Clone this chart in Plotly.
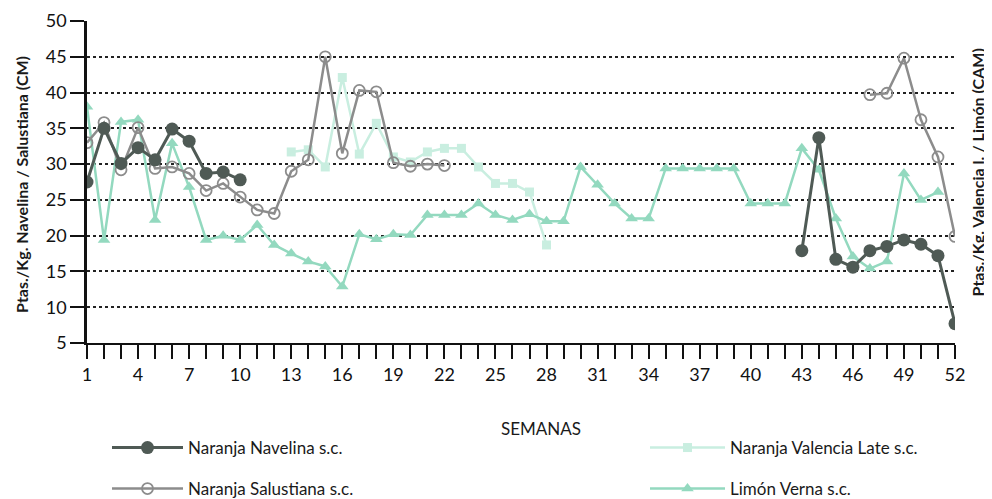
import plotly.graph_objects as go

weeks = list(range(1, 53))
N = None

navelina = [27.5, 35.0, 30.1, 32.3, 30.6, 34.9, 33.2, 28.7, 28.9, 27.8] + [N]*32 + \
           [17.9, 33.7, 16.7, 15.6, 17.9, 18.5, 19.4, 18.8, 17.2, 7.7]

salustiana = [33.0, 35.8, 29.2, 35.1, 29.4, 29.6, 28.7, 26.3, 27.3, 25.4, 23.6, 23.1,
              29.0, 30.6, 45.0, 31.5, 40.3, 40.1, 30.2, 29.7, 30.0, 29.8] + [N]*24 + \
             [39.7, 39.9, 44.8, 36.2, 31.0, 19.9]

valencia = [N]*12 + [31.7, 32.0, 29.6, 42.1, 31.4, 35.7, 31.0, 30.3, 31.7, 32.2, 32.2,
                     29.6, 27.3, 27.3, 26.1, 18.7] + [N]*24

limon = [38.0, 19.4, 35.9, 36.2, 22.2, 32.9, 26.8, 19.4, 20.0, 19.4, 21.5, 18.7, 17.5, 16.4,
         15.7, 12.9, 20.2, 19.5, 20.2, 20.1, 22.9, 22.9, 22.9, 24.5, 22.9, 22.2, 23.0, 22.0,
         22.0, 29.6, 27.1, 24.5, 22.4, 22.4, 29.4, 29.4, 29.4, 29.4, 29.4, 24.5, 24.5, 24.5,
         32.2, 29.2, 22.4, 17.1, 15.4, 16.4, 28.7, 25.0, 26.1, N]

x_tickvals = list(range(1, 53, 3))
y_tickvals = list(range(5, 51, 5))

names = ["Naranja Navelina s.c.", "Naranja Salustiana s.c.",
         "Naranja Valencia Late s.c.", "Limón Verna s.c."]

C_NAV = "#4f5a55"
C_SAL = "#8c8c8c"
C_VAL = "#c9eee0"
C_LIM = "#93d9bf"

FONT = "Lato"

fig = go.Figure()

fig.add_trace(go.Scatter(
    x=weeks, y=valencia, name=names[2], mode="lines+markers",
    line=dict(color=C_VAL, width=2.5),
    marker=dict(symbol="square", size=9, color=C_VAL),
    legend="legend3"))

fig.add_trace(go.Scatter(
    x=weeks, y=limon, name=names[3], mode="lines+markers",
    line=dict(color=C_LIM, width=2.5),
    marker=dict(symbol="triangle-up", size=11, color=C_LIM),
    legend="legend4"))

fig.add_trace(go.Scatter(
    x=weeks, y=salustiana, name=names[1], mode="lines+markers",
    line=dict(color=C_SAL, width=2.5),
    marker=dict(symbol="circle-open", size=11, color=C_SAL, line=dict(width=1.8)),
    legend="legend2"))

fig.add_trace(go.Scatter(
    x=weeks, y=navelina, name=names[0], mode="lines+markers",
    line=dict(color=C_NAV, width=3),
    marker=dict(symbol="circle", size=13, color=C_NAV),
    legend="legend"))

# page body has an 8px margin: the figure starts at (8, 8) in the window
OFF = 8
W, H = 992 - OFF, 499 - OFF
# target plot area in window pixels: x 87..955, y 21..343
L = 87 - OFF
T = 21 - OFF
R = W - (955 - OFF)
B = H - (343 - OFF)
pw, ph = W - L - R, H - T - B


def cx(px):
    return (px - OFF) / W


def cy(py):
    return 1 - (py - OFF) / H


def paper_x(px):
    return (px - OFF - L) / pw


def paper_y(py):
    return (H - B - (py - OFF)) / ph


leg_font = dict(family=FONT, size=17, color="#1a1a1a")
common_leg = dict(font=leg_font, bgcolor="rgba(0,0,0,0)", borderwidth=0,
                  xanchor="left", yanchor="middle",
                  xref="container", yref="container")

fig.update_layout(
    width=W, height=H,
    margin=dict(l=L, r=R, t=T, b=B, autoexpand=False),
    paper_bgcolor="white", plot_bgcolor="white",
    font=dict(family=FONT, color="#1a1a1a"),
    showlegend=True,
    legend=dict(x=cx(107), y=cy(448), itemwidth=71, **common_leg),
    legend2=dict(x=cx(107), y=cy(489), itemwidth=71, **common_leg),
    legend3=dict(x=cx(645), y=cy(448), itemwidth=75, **common_leg),
    legend4=dict(x=cx(645), y=cy(489), itemwidth=75, **common_leg),
    xaxis=dict(
        range=[1, 52], tickvals=x_tickvals, ticktext=[str(v) for v in x_tickvals],
        ticks="outside", ticklen=14, tickwidth=1.5, tickcolor="#111",
        minor=dict(dtick=1, tick0=1, ticks="outside", ticklen=14, tickwidth=1.5, tickcolor="#111"),
        showline=True, linecolor="#111", linewidth=2,
        showgrid=False, zeroline=False,
        tickfont=dict(family=FONT, size=18, color="#111"),
    ),
    yaxis=dict(
        range=[5, 50], tickvals=y_tickvals,
        ticks="outside", ticklen=14, tickwidth=1.5, tickcolor="#111",
        showline=True, linecolor="#111", linewidth=2.5,
        showgrid=True, gridcolor="#222", griddash="dot", gridwidth=1.6,
        zeroline=False,
        tickfont=dict(family=FONT, size=18, color="#111"),
    ),
    annotations=[
        dict(text="SEMANAS", x=paper_x(541), y=paper_y(428), xref="paper", yref="paper",
             xanchor="center", yanchor="middle",
             showarrow=False, font=dict(family=FONT, size=17, color="#1a1a1a")),
        dict(text="<b>Ptas./Kg. Navelina / Salustiana (CM)</b>", x=paper_x(21), y=paper_y(185),
             xref="paper", yref="paper", xanchor="center", yanchor="middle",
             showarrow=False, textangle=-90,
             font=dict(family=FONT, size=16, color="#1a1a1a")),
        dict(text="<b>Ptas./Kg. Valencia l. / Limón (CAM)</b>", x=paper_x(988), y=paper_y(173),
             xref="paper", yref="paper", xanchor="right", yanchor="middle",
             showarrow=False, textangle=-90,
             font=dict(family=FONT, size=16, color="#1a1a1a")),
    ],
)

fig.write_html("out.html")
